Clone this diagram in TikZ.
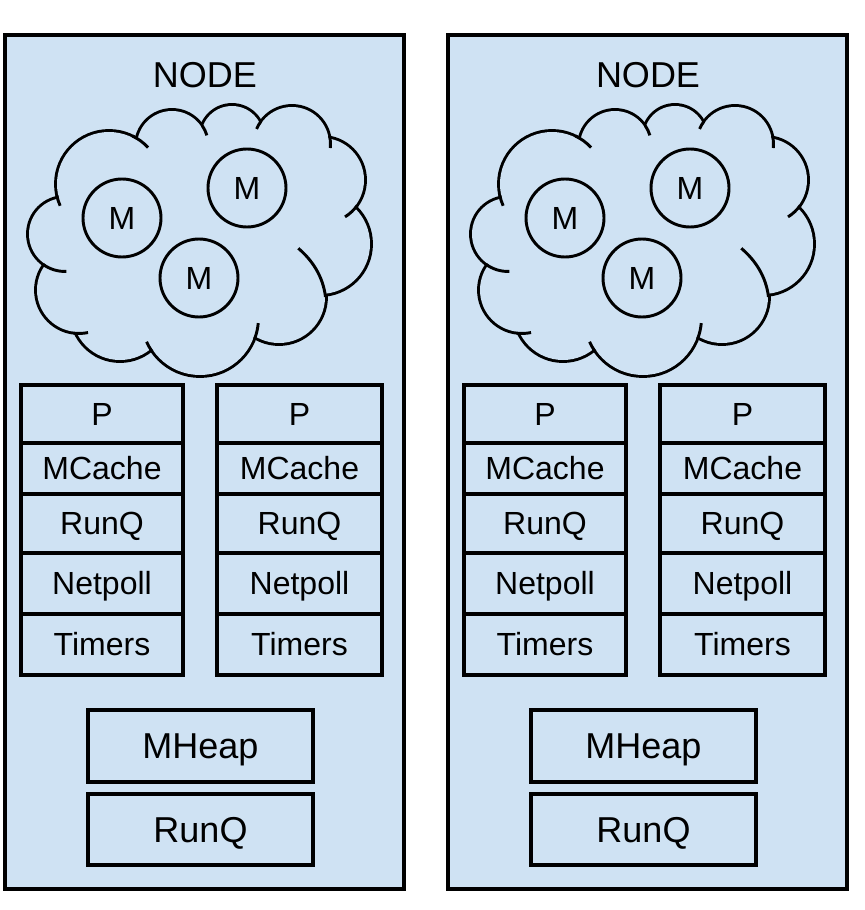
\documentclass[tikz,border=0pt]{standalone}
\usepackage{fontspec}
\setmainfont{Liberation Sans}
\definecolor{panelblue}{HTML}{CFE2F3}
\tikzset{
  panelbox/.style={draw=black, fill=panelblue, line width=2.6pt, inner sep=0pt},
  bigtxt/.style={inner sep=0pt, font=\fontsize{27}{32}\selectfont, text height=19.33pt, text depth=0pt},
  rowbox/.style={draw=black, line width=2.4pt, inner sep=0pt, font=\fontsize{24}{28}\selectfont, text height=17.18pt, text depth=0pt},
  heapbox/.style={draw=black, line width=2.4pt, inner sep=0pt, font=\fontsize{27}{32}\selectfont, text height=19.33pt, text depth=0pt, minimum width=168.75pt},
  mcirc/.style={circle, draw=black, line width=2.2pt, inner sep=0pt, minimum size=58.5pt, font=\fontsize{24}{28}\selectfont, text height=17.18pt, text depth=0pt},
  lobestroke/.style={draw=black, line width=4.4pt},
  lobefill/.style={fill=panelblue},
  cloudline/.style={draw=black, line width=2.2pt},
}
\newcommand\onepanel[2]{%
\begin{scope}[shift={(#1,0)}]
  \node[panelbox, minimum width=299.25pt, minimum height=640.5pt] (#2frame) at (204.5,462) {};
  \node[bigtxt] (#2title) at (205,75) {NODE};
  % cloud: union of lobes
  \foreach \cx/\cy/\r in {109/184/52, 65/234/36, 79/290/42, 120/312/48, 200/318/57, 279/297/46, 320/244/50, 322/180/42, 292/144/37, 232/137/31, 172/146/35}
    \path[lobestroke] (\cx,\cy) circle[radius=\r];
  \path[lobefill] (109,184) -- (65,234) -- (79,290) -- (120,312) -- (200,318) -- (279,297) -- (320,244) -- (322,180) -- (292,144) -- (232,137) -- (172,146) -- cycle;
  \foreach \cx/\cy/\r in {109/184/52, 65/234/36, 79/290/42, 120/312/48, 200/318/57, 279/297/46, 320/244/50, 322/180/42, 292/144/37, 232/137/31, 172/146/35}
    \path[lobefill] (\cx,\cy) circle[radius=\r];
  % inner curls
  \path[cloudline] (109,184) ++(-64:53.47) arc[start angle=-64, end angle=-43, radius=53.47];
  \path[cloudline] (172,146) ++(-34:36.47) arc[start angle=-34, end angle=-17, radius=36.47];
  \path[cloudline] (292,144) ++(216:38.47) arc[start angle=216, end angle=203, radius=38.47];
  \path[cloudline] (292,144) ++(-12:38.47) arc[start angle=-12, end angle=6, radius=38.47];
  \path[cloudline] (322,180) ++(36:43.47) arc[start angle=36, end angle=58, radius=43.47];
  \path[cloudline] (298.3,248.3) .. controls (312,260) and (323,276) .. (325.5,297);
  \path[cloudline] (200,318) ++(21:58.47) arc[start angle=21, end angle=5, radius=58.47];
  \path[cloudline] (200,318) ++(145:58.47) arc[start angle=145, end angle=156, radius=58.47];
  \path[cloudline] (79,290) ++(97:43.47) arc[start angle=97, end angle=78, radius=43.47];
  \path[cloudline] (65,234) ++(126:37.47) arc[start angle=126, end angle=88, radius=37.47];
  \path[cloudline] (109,184) ++(168:53.47) arc[start angle=168, end angle=156, radius=53.47];
  % M circles
  \node[mcirc] (#2m1) at (122,218) {M};
  \node[mcirc] (#2m2) at (247,188) {M};
  \node[mcirc] (#2m3) at (199,278) {M};
  % P stacks
  \foreach \sx/\sw/\s in {102/121.5pt/a, 299.5/123.75pt/b}{
    \node[rowbox, minimum width=\sw, minimum height=43.5pt] (#2\s-p) at (\sx,414) {P};
    \node[rowbox, minimum width=\sw, minimum height=38.25pt] (#2\s-mcache) at (\sx,468.5) {MCache};
    \node[rowbox, minimum width=\sw, minimum height=44.25pt] (#2\s-runq) at (\sx,523.5) {RunQ};
    \node[rowbox, minimum width=\sw, minimum height=45.75pt] (#2\s-netpoll) at (\sx,583.5) {Netpoll};
    \node[rowbox, minimum width=\sw, minimum height=45.75pt] (#2\s-timers) at (\sx,644.5) {Timers};
  }
  % global structures
  \node[heapbox, minimum height=54pt] (#2heap) at (200.5,746) {MHeap};
  \node[heapbox, minimum height=53.25pt] (#2grunq) at (200.5,829.5) {RunQ};
\end{scope}}
\begin{document}
\begin{tikzpicture}[x=0.75pt, y=-0.75pt]
  \useasboundingbox (0,0) rectangle (864,910);
  \onepanel{0}{L}
  \onepanel{443}{R}
\end{tikzpicture}
\end{document}
